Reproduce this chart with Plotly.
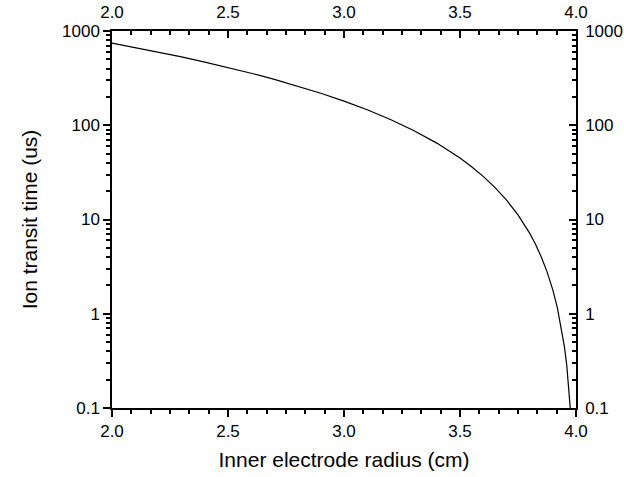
import plotly.graph_objects as go

# Data
radius_cm = [2.0, 2.1, 2.2, 2.3, 2.4, 2.5, 2.6, 2.7, 2.8, 2.9, 3.0, 3.1, 3.2, 3.3, 3.4,
             3.45, 3.5, 3.55, 3.6, 3.65, 3.7, 3.75, 3.8, 3.825, 3.85, 3.875, 3.9,
             3.92, 3.94, 3.95, 3.96, 3.97, 3.975, 3.98]
transit_us = [745, 669, 597.6, 530.9, 468.5, 410.5, 356.5, 306.6, 260.7, 218.6, 180.4,
              145.9, 115.1, 88.06, 64.63, 54.29, 44.85, 36.32, 28.69, 21.96, 16.13,
              11.20, 7.167, 5.487, 4.031, 2.799, 1.792, 1.147, 0.645, 0.448, 0.287,
              0.161, 0.112, 0.0717]

x_tickvals = [2.0, 2.5, 3.0, 3.5, 4.0]
x_ticktext = ["2.0", "2.5", "3.0", "3.5", "4.0"]
y_tickvals = [0.1, 1, 10, 100, 1000]
y_ticktext = ["0.1", "1", "10", "100", "1000"]

FONT = "Liberation Sans, Arial, sans-serif"

fig = go.Figure()
fig.add_trace(go.Scatter(x=radius_cm, y=transit_us, mode="lines",
                         line=dict(color="black", width=1.2), showlegend=False,
                         hoverinfo="skip"))
# invisible trace for the mirrored axes
fig.add_trace(go.Scatter(x=radius_cm, y=transit_us, mode="lines", xaxis="x2", yaxis="y2",
                         line=dict(color="rgba(0,0,0,0)", width=0), showlegend=False,
                         hoverinfo="skip"))

common_x = dict(range=[2.0, 4.0], tickvals=x_tickvals, ticktext=x_ticktext,
                showgrid=False, zeroline=False, showline=True, linecolor="black",
                linewidth=1.5, tickcolor="black", tickwidth=1.5, ticklen=7,
                automargin=False,
                tickfont=dict(family=FONT, size=17, color="black"))
common_y = dict(type="log", range=[-1, 3], tickvals=y_tickvals, ticktext=y_ticktext,
                showgrid=False, zeroline=False, showline=True, linecolor="black",
                linewidth=1.5, tickcolor="black", tickwidth=1.5, ticklen=7,
                automargin=False,
                tickfont=dict(family=FONT, size=17, color="black"))

fig.update_layout(
    width=624, height=477,
    margin=dict(l=112, r=48, t=31, b=69),
    paper_bgcolor="white", plot_bgcolor="white",
    xaxis=dict(**common_x, ticks="outside", side="bottom",
               minor=dict(ticks="outside", ticklen=4, dtick=0.5 / 6, tickcolor="black", tickwidth=1.5),
               title=dict(text="Inner electrode radius (cm)", standoff=12,
                          font=dict(family=FONT, size=21, color="black"))),
    xaxis2=dict(**common_x, ticks="inside", side="top", overlaying="x", anchor="y",
                ticklabelstandoff=4,
                minor=dict(ticks="inside", ticklen=4, dtick=0.5 / 6, tickcolor="black", tickwidth=1.5)),
    yaxis=dict(**common_y, ticks="outside", side="left",
               minor=dict(ticks="outside", ticklen=4, dtick="D1", tickcolor="black", tickwidth=1.5),
               title=dict(text="Ion transit time (us)", standoff=19,
                          font=dict(family=FONT, size=21, color="black"))),
    yaxis2=dict(**common_y, ticks="inside", side="right", overlaying="y", anchor="x",
                ticklabelstandoff=4,
                minor=dict(ticks="inside", ticklen=4, dtick="D1", tickcolor="black", tickwidth=1.5)),
)

# remove the page's default body margin so the figure sits at the window's corner
fig.write_html("out.html", config={"displayModeBar": False},
               post_script="document.body.style.margin='0px';")
